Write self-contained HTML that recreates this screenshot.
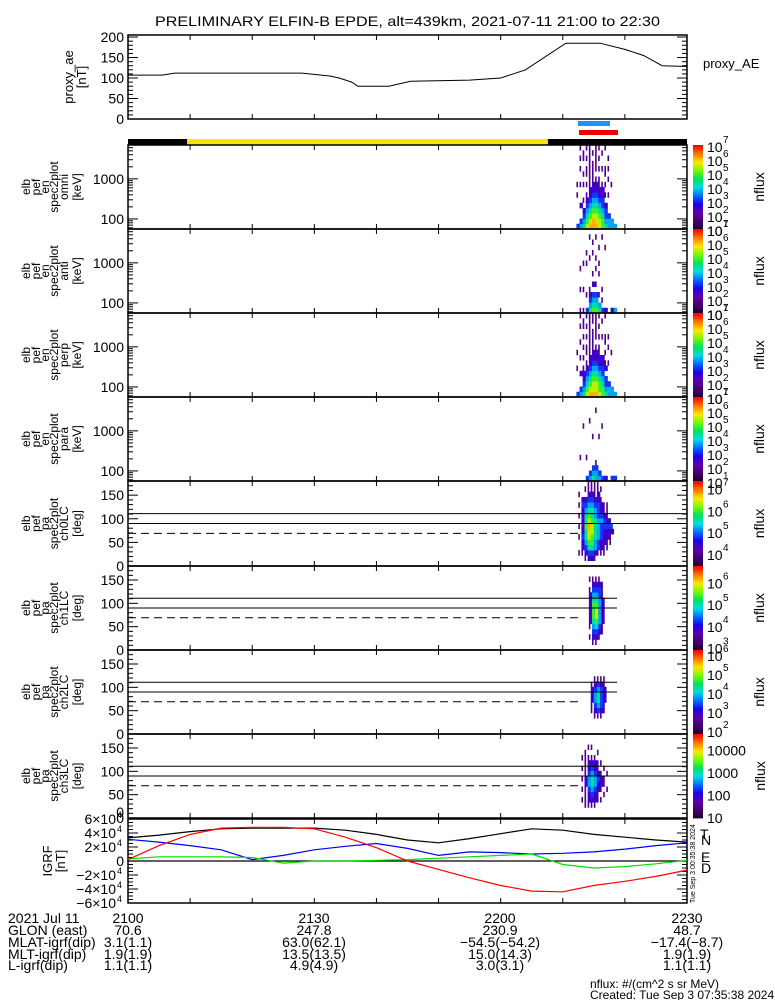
<!DOCTYPE html>
<html><head><meta charset="utf-8">
<style>
html,body{margin:0;padding:0;background:#fff;}
svg{display:block;font-family:"Liberation Sans",sans-serif;}
text{fill:#000;}
</style></head>
<body>
<svg id="chart" width="775" height="1000" viewBox="0 0 775 1000" xmlns="http://www.w3.org/2000/svg">
<rect x="0" y="0" width="775" height="1000" fill="#fff"/>
<text x="155" y="26" font-size="14" textLength="505" lengthAdjust="spacingAndGlyphs">PRELIMINARY ELFIN-B EPDE, alt=439km, 2021-07-11 21:00 to 22:30</text>
<g id="layer"></g>
</svg>
<script>
// ---------- data ----------
const aeTimes = [0,5.5,7.5,28,32.5,34,36,37,42,45.5,55,60,64,70.5,76,80,83,86,90];
const aeValues = [107,107,112,112,105,100,90,80,80,92,95,100,120,185,185,170,155,130,128];
const aeTicks = [0,50,100,150,200];

const igrfTimes = [0,5,10,15,20,25,30,35,40,45,50,55,60,65,70,75,80,85,90];
const igrfTotal = [3.3,3.7,4.2,4.6,4.7,4.7,4.7,4.4,3.8,3.0,2.6,3.2,3.9,4.6,4.4,3.8,3.4,3.0,2.7];
const igrfN = [3.1,2.7,2.2,1.6,0.2,0.8,1.6,2.1,2.5,1.8,0.8,1.3,1.2,1.0,1.1,1.3,1.7,2.2,2.6];
const igrfE = [0.3,0.6,0.6,0.6,0.5,-0.3,0.0,0.0,0.1,0.2,0.4,0.6,0.8,1.0,-0.5,-1.0,-0.8,-0.4,0.1];
const igrfD = [0.2,2.2,3.8,4.7,4.8,4.8,4.6,3.4,1.9,0.0,-1.2,-2.4,-3.5,-4.3,-4.4,-3.5,-2.9,-2.2,-1.3];
const igrfTickVals = [6,4,2,0,-2,-4,-6];

const timeTickLabels = ["2100","2130","2200","2230"];
const glonLabels = ["70.6","247.8","230.9","48.7"];
const mlatLabels = ["3.1(1.1)","63.0(62.1)","-54.5(-54.2)","-17.4(-8.7)"];
const mltLabels = ["1.9(1.9)","13.5(13.5)","15.0(14.3)","1.9(1.9)"];
const lLabels = ["1.1(1.1)","4.9(4.9)","3.0(3.1)","1.1(1.1)"];

// spectrogram columns: each string = 16 bins bottom->top, digit = fraction of colorbar (d+0.5)/10
const omniStart = 72.2;
const omniCols = ["3.....1.1.......","43..2...1..1.1.1","5432.1..1.1..11.","7654321.1.11.1.1","8765432211111111","8876543221111.1.","8776543221.11111","7765432211.1.1.1","665433221..1..1.","54332.1.1.11...1","443...1..1.1.1..","44......1.......","4..............."];
const antStart = 72.2;
const antCols = ["................","1...1...1.......","1...1....1......","3..1.....1.1....","54321.....1...1.","6543.2.1...1.1..","6543.1..1.1...1.","54.1...1.1..1...","3.1.1.........1.","2...........1...","................","2...............","4..............."];
const perpStart = 72.2;
const perpCols = ["3....1..1.......","43..2..1..1..1.1","543221.1.1.1.11.","7654321.11.1.1.1","8765432211111111","8776543221111.11","8776543221.11111","7665432211.1.1.1","66543322...1..1.","5433.21.1.11...1","443...1..1.1....","44......1.......","4..............."];
const paraStart = 72.2;
const paraCols = ["................","....1...........","..........1.....","3...1...........","43.........1....","543.....1.......","4431.........1..","43......1.......","3.........1.....","2...............","................","3...............","3..............."];
const ch0Start = 72.5;
const ch0Cols = ["..1..1.1.1.1.1..","..12232222232....",".123455655432.1.",".235677876543211",".235667765543211",".124455554432111","..13344443332211","..12233343221.1.","..1122233211....","...112232111....","....11231.......","......1........."];
const ch1Start = 74.2;
const ch1Cols = ["..1.12222221.1..",".1234566654321..",".1235677654321..","..123444443321..","...1122222111..."];
const ch2Start = 74.5;
const ch2Cols = ["....112221......","...12344321.....","...13455431.....","...12333321.....","....1122211....."];
const ch3Start = 73.0;
const ch3Cols = ["...1.1.1.1.1....","..11112211111...","..1223443221.1..","..1234554321.1..","..1223443221....","...11223211.1...","...1.1221.1.....","....1.11.1......",".....1..1......."];

const cbLow = [1,1,1,1,3.4,2.85,1.8,0.95];
const cbHigh = [7,7,7,7,7.3,6.7,6.2,4.7];
const cbLabelExps = [[1,2,3,4,5,6,7],[1,2,3,4,5,6,7],[1,2,3,4,5,6,7],[1,2,3,4,5,6,7],[4,5,6,7],[3,4,5,6],[2,3,4,5,6],[1,2,3,4]];
const lossConeLines = [111,90,69];

// ---------- layout ----------
const NS="http://www.w3.org/2000/svg";
const layer=document.getElementById('layer');
const X0=128, X1=687;
const xs = m => X0 + m*(X1-X0)/90;
function el(tag, attrs, parent){const e=document.createElementNS(NS,tag);for(const k in attrs)e.setAttribute(k,attrs[k]);(parent||layer).appendChild(e);return e;}
function txt(s,x,y,size,anchor,parent,color){const t=el('text',{x:x,y:y,'font-size':size,'text-anchor':anchor||'start'},parent);if(color)t.setAttribute('fill',color);t.textContent=s;return t;}
function cmap(f){
  const st=[[0,30,0,40],[0.1,70,0,110],[0.2,90,0,170],[0.3,30,0,235],[0.4,0,110,255],[0.5,0,220,230],[0.6,0,225,90],[0.7,120,250,0],[0.8,255,230,0],[0.9,255,120,0],[1,240,0,0]];
  f=Math.max(0,Math.min(1,f));
  for(let i=1;i<st.length;i++){if(f<=st[i][0]){const a=st[i-1],b=st[i],u=(f-a[0])/(b[0]-a[0]);return `rgb(${Math.round(a[1]+u*(b[1]-a[1]))},${Math.round(a[2]+u*(b[2]-a[2]))},${Math.round(a[3]+u*(b[3]-a[3]))})`;}}
  return 'rgb(240,0,0)';
}
function timeTicks(g,y0,y1){
  for(let m=10;m<90;m+=10){
    el('line',{x1:xs(m),x2:xs(m),y1:y1,y2:y1-5,stroke:'#000','stroke-width':1},g);
    el('line',{x1:xs(m),x2:xs(m),y1:y0,y2:y0+5,stroke:'#000','stroke-width':1},g);
  }
}
function rotLabel(lines,cx,cy,g){
  const xsPos=[30,40,49,58,68,81];
  const start = 6-lines.length;
  lines.forEach((s,i)=>{
    const x = xsPos[start+i];
    const t=el('text',{transform:`translate(${x},${cy}) rotate(-90)`,'font-size':12,'text-anchor':'middle'},g);
    t.textContent=s;
  });
}

// ---------- top AE panel ----------
{
  const g=el('g',{});  
  const yT=35,yB=119; const ya=v=>yB - v*(yB-yT)/205;
  el('rect',{x:X0,y:yT,width:X1-X0,height:yB-yT,fill:'none',stroke:'#000','stroke-width':1.5},g);
  for(let v=0;v<=200;v+=10){const L=v%50===0?10:5;
    el('line',{x1:X0,x2:X0+L,y1:ya(v),y2:ya(v),stroke:'#000'},g);
    el('line',{x1:X1,x2:X1-L,y1:ya(v),y2:ya(v),stroke:'#000'},g);}
  aeTicks.forEach(v=>{const t=txt(String(v),124,ya(v)+5,14,'end',g);});
  timeTicks(g,yT,yB);
  const pts=aeTimes.map((t,i)=>xs(t)+','+ya(aeValues[i])).join(' ');
  const pl=el('polyline',{points:pts,fill:'none',stroke:'#000','stroke-width':1},g);
   
  const t1=el('text',{transform:`translate(73,77) rotate(-90)`,'font-size':13,'text-anchor':'middle'},g);t1.textContent='proxy_ae';
  const t2=el('text',{transform:`translate(86,77) rotate(-90)`,'font-size':13,'text-anchor':'middle'},g);t2.textContent='[nT]';
  const t3=txt('proxy_AE',703,68,13,'start',g);  
}
// ---------- orbit / zone bars ----------
{
  const g=el('g',{});  
  el('rect',{x:578,y:121,width:32,height:5,fill:'#1e90ff'},g);
  el('rect',{x:579,y:130,width:39,height:5,fill:'#e00'},g);
  el('rect',{x:128,y:139,width:59,height:6,fill:'#000'},g);
  el('rect',{x:187,y:139,width:361,height:6,fill:'#f5e400'},g);
  el('rect',{x:548,y:139,width:139,height:6,fill:'#000'},g);
}
// ---------- spectrogram panels ----------
const panels=[
 {y0:145,y1:229,cols:omniCols,start:omniStart,kind:'en',lab:['elb','pef','en','spec2plot','omni','[keV]'],name:'omni-energy-spectrogram'},
 {y0:229,y1:313,cols:antCols,start:antStart,kind:'en',lab:['elb','pef','en','spec2plot','anti','[keV]'],name:'anti-energy-spectrogram'},
 {y0:313,y1:397,cols:perpCols,start:perpStart,kind:'en',lab:['elb','pef','en','spec2plot','perp','[keV]'],name:'perp-energy-spectrogram'},
 {y0:397,y1:481,cols:paraCols,start:paraStart,kind:'en',lab:['elb','pef','en','spec2plot','para','[keV]'],name:'para-energy-spectrogram'},
 {y0:481,y1:566,cols:ch0Cols,start:ch0Start,kind:'pa',lab:['elb','pef','pa','spec2plot','ch0LC','[deg]'],name:'ch0-pitch-spectrogram'},
 {y0:566,y1:650,cols:ch1Cols,start:ch1Start,kind:'pa',lab:['elb','pef','pa','spec2plot','ch1LC','[deg]'],name:'ch1-pitch-spectrogram'},
 {y0:650,y1:734,cols:ch2Cols,start:ch2Start,kind:'pa',lab:['elb','pef','pa','spec2plot','ch2LC','[deg]'],name:'ch2-pitch-spectrogram'},
 {y0:734,y1:818,cols:ch3Cols,start:ch3Start,kind:'pa',lab:['elb','pef','pa','spec2plot','ch3LC','[deg]'],name:'ch3-pitch-spectrogram'}
];
const colMin = 0.5;
panels.forEach((p,pi)=>{
  const g=el('g',{});  
  const H=p.y1-p.y0, bh=H/16;
  p.cols.forEach((s,ci)=>{
    const xa=xs(p.start+ci*colMin), xb=xs(p.start+(ci+1)*colMin);
    for(let b=0;b<16;b++){const ch=s[b]; if(!ch||ch==='.')continue;
      const d=parseInt(ch);
      const f=(d+0.5)/10;
      const w = d<=1 ? 1.6 : (xb-xa+0.3);
      const r=el('rect',{x:xa,y:p.y1-(b+1)*bh,width:w,height:bh+0.3,fill:cmap(f)},g);
       
    }
  });
  el('rect',{x:X0,y:p.y0,width:X1-X0,height:H,fill:'none',stroke:'#000','stroke-width':1.5},g);
  timeTicks(g,p.y0,p.y1);
  if(p.kind==='en'){
    const ye=e=>p.y1 - (Math.log10(e)-Math.log10(56))*H/(Math.log10(7000)-Math.log10(56));
    const dec=[10,100,1000];
    dec.forEach(d=>{for(let k=1;k<10;k++){const e=d*k;if(e<56||e>7000)continue;const y=ye(e);const L=k===1?10:5;
      el('line',{x1:X0,x2:X0+L,y1:y,y2:y,stroke:'#000'},g);el('line',{x1:X1,x2:X1-L,y1:y,y2:y,stroke:'#000'},g);}});
    txt('100',124,ye(100)+5,14,'end',g); txt('1000',124,ye(1000)+5,14,'end',g);
  } else {
    const yp=v=>p.y1 - v*H/180;
    for(let v=0;v<=180;v+=10){const L=v%50===0?10:5;
      el('line',{x1:X0,x2:X0+L,y1:yp(v),y2:yp(v),stroke:'#000'},g);el('line',{x1:X1,x2:X1-L,y1:yp(v),y2:yp(v),stroke:'#000'},g);}
    [0,50,100,150].forEach(v=>txt(String(v),124,yp(v)+5,14,'end',g));
    lossConeLines.forEach((v,i)=>{
      const ln=el('line',{x1:X0,x2:i===2?583:(pi===5||pi===6?617:X1),y1:yp(v),y2:yp(v),stroke:'#000','stroke-width':1},g);
      if(i===2) ln.setAttribute('stroke-dasharray','8,5');
       
    });
  }
  rotLabel(p.lab,0,(p.y0+p.y1)/2,g);
  // colorbar
  const cb=el('g',{});  
  const N=42;for(let i=0;i<N;i++){el('rect',{x:693,y:p.y1-(i+1)*H/N,width:10,height:H/N+0.4,fill:cmap((i+0.5)/N)},cb);}
  const lo=cbLow[pi],hi=cbHigh[pi];
  cbLabelExps[pi].forEach(ex=>{const y=p.y1-(ex-lo)*H/(hi-lo);
    if(pi===7){txt(String(Math.pow(10,ex)),707,y+6,14,'start',cb);}
    else{txt('10',707,y+7,14,'start',cb);txt(String(ex),723,y-2,10,'start',cb);}
  });
  const nf=el('text',{transform:`translate(${pi===7?765:764},${(p.y0+p.y1)/2}) rotate(-90)`,'font-size':14,'text-anchor':'middle'},cb);nf.textContent='nflux';
});
// ---------- IGRF panel ----------
{
  const g=el('g',{});  
  const yT=819,yB=903,y0=861; const yi=v=>y0 - v*7;
  el('rect',{x:X0,y:yT,width:X1-X0,height:yB-yT,fill:'none',stroke:'#000','stroke-width':1.5},g);
  el('line',{x1:X0,x2:X1,y1:y0,y2:y0,stroke:'#000','stroke-width':1.2},g);
  for(let v=-6;v<=6;v+=0.5){const L=Number.isInteger(v/2)?10:5;
    el('line',{x1:X0,x2:X0+L,y1:yi(v),y2:yi(v),stroke:'#000'},g);el('line',{x1:X1,x2:X1-L,y1:yi(v),y2:yi(v),stroke:'#000'},g);}
  timeTicks(g,yT,yB);
  txt('0',124,817,14,'end',g);
  igrfTickVals.forEach(v=>{ if(v===0){txt('0',124,yi(0)+5,14,'end',g);return;}
    const t=txt((v<0?'\u2212':'')+Math.abs(v)+'\u00d710',116,yi(v)+5,14,'end',g);
    txt('4',117,yi(v)-1,9,'start',g);});
  const series=[[igrfTotal,'#000','igrf-total-line'],[igrfN,'#0000ff','igrf-north-line'],[igrfE,'#00e000','igrf-east-line'],[igrfD,'#ff0000','igrf-down-line']];
  series.forEach(([vals,c,n])=>{const pl=el('polyline',{points:igrfTimes.map((t,i)=>xs(t)+','+yi(vals[i])).join(' '),fill:'none',stroke:c,'stroke-width':1.2},g);
     });
  const t1=el('text',{transform:`translate(52,861) rotate(-90)`,'font-size':13,'text-anchor':'middle'},g);t1.textContent='IGRF';
  const t2=el('text',{transform:`translate(65,861) rotate(-90)`,'font-size':13,'text-anchor':'middle'},g);t2.textContent='[nT]';
  txt('T',700,839,14,'start',g,'#000'); txt('N',701,845,14,'start',g,'#0000ff');
  txt('E',701,862,14,'start',g,'#00d000'); txt('D',701,873,14,'start',g,'#ff0000');
  const st=el('text',{transform:`translate(695,903) rotate(-90)`,'font-size':7,'text-anchor':'start'},g);st.textContent='Tue Sep  3 00:35:38 2024';
}
// ---------- footer ----------
{
  const g=el('g',{});  
  const rows=[['2021 Jul 11',timeTickLabels],['GLON (east)',glonLabels],['MLAT-igrf(dip)',mlatLabels],['MLT-igrf(dip)',mltLabels],['L-igrf(dip)',lLabels]];
  const ys=[923,935,947,959,970];
  const cx=[128,314,500,687];
  rows.forEach((r,i)=>{txt(r[0],8,ys[i],14,'start',g);
    r[1].forEach((s,j)=>{let x=cx[j]; txt(s.replace(/-/g,'\u2212'),x,ys[i],14,'middle',g);});});
  txt('nflux: #/(cm^2 s sr MeV)',590,988,12,'start',g);
  txt('Created: Tue Sep  3 07:35:38 2024',590,999,12,'start',g);
}
</script>
</body></html>
